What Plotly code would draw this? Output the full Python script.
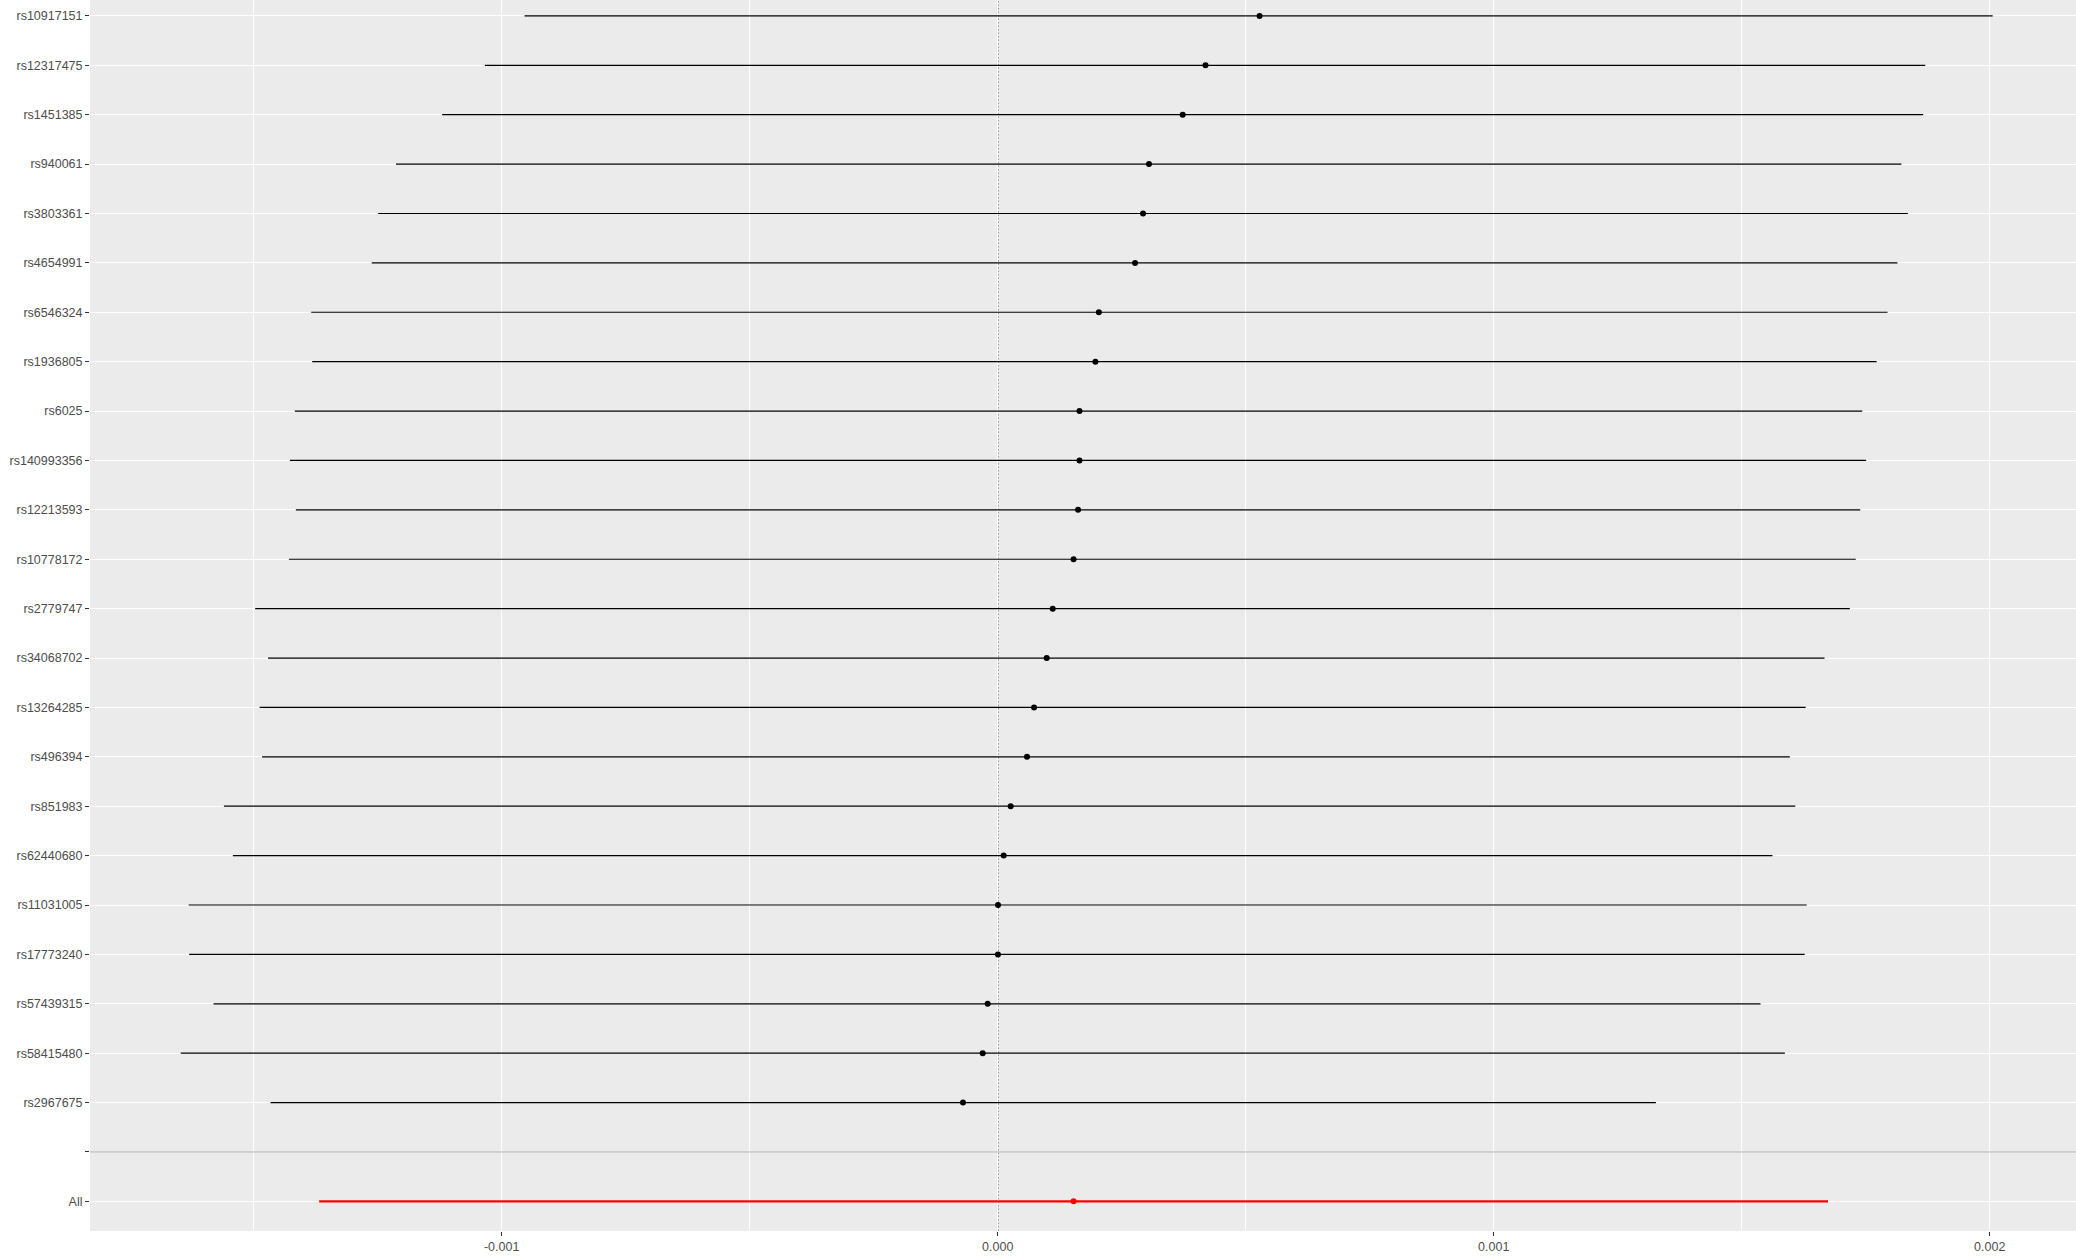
import plotly.graph_objects as go

# ---- data ----
snps = ["rs10917151", "rs12317475", "rs1451385", "rs940061", "rs3803361", "rs4654991",
        "rs6546324", "rs1936805", "rs6025", "rs140993356", "rs12213593", "rs10778172",
        "rs2779747", "rs34068702", "rs13264285", "rs496394", "rs851983", "rs62440680",
        "rs11031005", "rs17773240", "rs57439315", "rs58415480", "rs2967675"]
beta = [0.000528, 0.000419, 0.000373, 0.000305, 0.000293, 0.000277,
        0.000204, 0.000197, 0.000165, 0.000165, 0.000162, 0.000153,
        0.000111, 0.0000988, 0.0000733, 0.0000591, 0.0000262, 0.0000121,
        0.0000007, 0.0000005, -0.0000202, -0.0000302, -0.0000699]
ci_low = [-0.000954, -0.001034, -0.001120, -0.001213, -0.001249, -0.001262,
          -0.001384, -0.001382, -0.001417, -0.001427, -0.001415, -0.001429,
          -0.001497, -0.001471, -0.001488, -0.001483, -0.001560, -0.001542,
          -0.001631, -0.001630, -0.001581, -0.001647, -0.001466]
ci_high = [0.002006, 0.001870, 0.001866, 0.001822, 0.001835, 0.001814,
           0.001794, 0.001772, 0.001743, 0.001751, 0.001739, 0.001730,
           0.001718, 0.001667, 0.001629, 0.001597, 0.001608, 0.001562,
           0.001631, 0.001627, 0.001538, 0.001587, 0.001327]
all_label = "All"
all_beta = [0.000153]
all_low = [-0.001368]
all_high = [0.001674]

x_tick_vals = [-0.001, 0.0, 0.001, 0.002]
x_tick_text = ["-0.001", "0.000", "0.001", "0.002"]
x_minor_vals = [-0.0015, -0.0005, 0.0005, 0.0015]

# y layout: All at 0, blank separator at 1, SNPs above (top SNP highest)
n = len(snps)
snp_y = [n + 1 - i for i in range(n)]
y_tick_vals = [0, 1] + snp_y
y_tick_text = [all_label, ""] + snps

fig = go.Figure()

fig.add_trace(go.Scatter(
    x=beta, y=snp_y, mode="markers",
    marker=dict(color="black", size=6),
    error_x=dict(type="data", symmetric=False,
                 array=[h - b for h, b in zip(ci_high, beta)],
                 arrayminus=[b - l for b, l in zip(beta, ci_low)],
                 width=0, thickness=1.2, color="black"),
    showlegend=False, hoverinfo="skip"))

fig.add_trace(go.Scatter(
    x=all_beta, y=[0], mode="markers",
    marker=dict(color="red", size=6),
    error_x=dict(type="data", symmetric=False,
                 array=[h - b for h, b in zip(all_high, all_beta)],
                 arrayminus=[b - l for b, l in zip(all_beta, all_low)],
                 width=0, thickness=2.2, color="red"),
    showlegend=False, hoverinfo="skip"))

# dotted null line and grey separator line
fig.add_shape(type="line", xref="x", yref="paper", x0=0, x1=0, y0=0, y1=1,
              line=dict(color="black", width=1.3, dash="1.5px,2px"), layer="below")
fig.add_shape(type="line", xref="paper", yref="y", x0=0, x1=1, y0=1, y1=1,
              line=dict(color="#BEBEBE", width=1.3), layer="above")

font_family = "Liberation Sans, Arial, sans-serif"
fig.update_layout(
    width=2076, height=1256,
    margin=dict(l=90, r=0, t=0, b=25),
    paper_bgcolor="white", plot_bgcolor="#EBEBEB",
    font=dict(family=font_family, size=12.5, color="#4D4D4D"),
    xaxis=dict(range=[-0.00183, 0.002174], tickmode="array",
               tickvals=x_tick_vals, ticktext=x_tick_text,
               showgrid=True, gridcolor="white", gridwidth=1.4,
               zeroline=False, showline=False,
               ticks="outside", ticklen=4, tickwidth=1.1, tickcolor="#333333",
               tickfont=dict(size=12.5, color="#4D4D4D", family=font_family),
               minor=dict(tickvals=x_minor_vals, showgrid=True,
                          gridcolor="white", gridwidth=0.7, ticks="")),
    yaxis=dict(range=[-0.6, n + 1 + 0.322], tickmode="array",
               tickvals=y_tick_vals, ticktext=y_tick_text,
               showgrid=True, gridcolor="white", gridwidth=1.4,
               zeroline=False, showline=False,
               ticks="outside", ticklen=4, tickwidth=1.1, tickcolor="#333333",
               tickfont=dict(size=12.5, color="#4D4D4D", family=font_family)),
)

fig.write_html("out.html", config={"displayModeBar": False},
               post_script="document.body.style.margin='0';")
